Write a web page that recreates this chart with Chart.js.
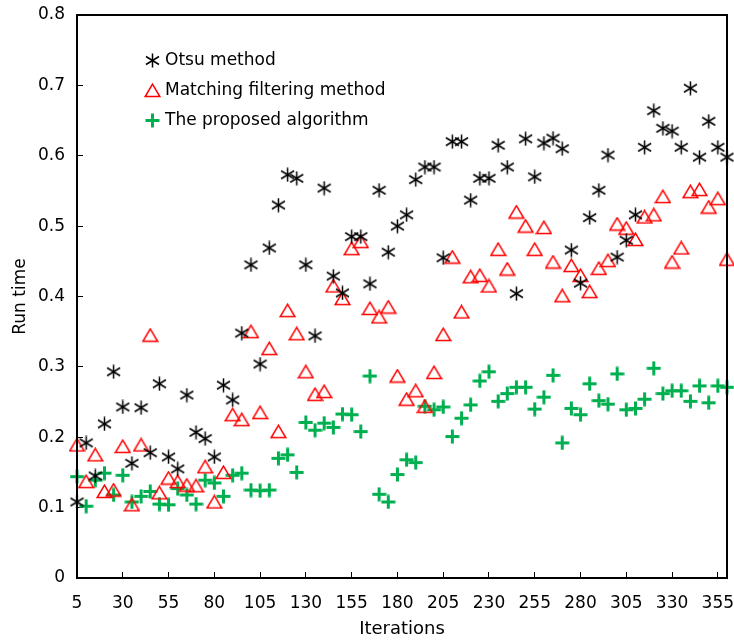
<!DOCTYPE html>
<html>
<head>
<meta charset="utf-8">
<title>Run time vs iterations</title>
<script src="https://cdn.jsdelivr.net/npm/chart.js@4.4.1/dist/chart.umd.min.js"></script>
<style>
    html, body { margin: 0; padding: 0; background: #fff; }
    #wrap { width: 734px; height: 640px; position: relative; }
</style>
</head>
<body>
<div id="wrap"><canvas id="runChart"></canvas></div>
<script>
(function() {
    'use strict';

    // Iteration counts shared by all three series
    const iterations = [
        5, 10, 15, 20, 25, 30, 35, 40, 45, 50, 55, 60, 65, 70, 75, 80, 85, 90,
        95, 100, 105, 110, 115, 120, 125, 130, 135, 140, 145, 150, 155, 160, 165, 170,
        175, 180, 185, 190, 195, 200, 205, 210, 215, 220, 225, 230, 235, 240, 245, 250,
        255, 260, 265, 270, 275, 280, 285, 290, 295, 300, 305, 310, 315, 320, 325, 330,
        335, 340, 345, 350, 355, 360
    ];

    // Run times
    const otsuTimes = [
        0.108, 0.192, 0.145, 0.219, 0.293, 0.243, 0.163, 0.242, 0.178, 0.276,
        0.172, 0.155, 0.260, 0.207, 0.198, 0.172, 0.274, 0.253, 0.348, 0.445,
        0.304, 0.469, 0.530, 0.573, 0.568, 0.445, 0.344, 0.554, 0.429, 0.405,
        0.485, 0.485, 0.418, 0.551, 0.463, 0.500, 0.516, 0.566, 0.584, 0.584,
        0.455, 0.620, 0.620, 0.537, 0.568, 0.568, 0.615, 0.584, 0.404, 0.624,
        0.570, 0.618, 0.625, 0.610, 0.466, 0.419, 0.512, 0.551, 0.601, 0.456,
        0.480, 0.516, 0.612, 0.664, 0.639, 0.635, 0.612, 0.696, 0.598, 0.649,
        0.612, 0.598
    ];

    const matchingTimes = [
        0.189, 0.137, 0.175, 0.123, 0.125, 0.187, 0.104, 0.189, 0.345, 0.121,
        0.142, 0.137, 0.132, 0.131, 0.158, 0.108, 0.150, 0.232, 0.225, 0.350,
        0.235, 0.326, 0.208, 0.380, 0.347, 0.293, 0.261, 0.265, 0.415, 0.397,
        0.468, 0.478, 0.383, 0.371, 0.385, 0.287, 0.254, 0.266, 0.244, 0.292,
        0.346, 0.456, 0.378, 0.428, 0.430, 0.415, 0.467, 0.439, 0.520, 0.500,
        0.467, 0.498, 0.449, 0.401, 0.444, 0.430, 0.407, 0.440, 0.451, 0.503,
        0.497, 0.481, 0.513, 0.516, 0.542, 0.449, 0.469, 0.549, 0.552, 0.527,
        0.539, 0.453
    ];

    const proposedTimes = [
        0.144, 0.102, 0.139, 0.149, 0.118, 0.146, 0.108, 0.116, 0.123, 0.105,
        0.104, 0.127, 0.118, 0.105, 0.139, 0.135, 0.116, 0.146, 0.149, 0.125,
        0.124, 0.125, 0.170, 0.175, 0.150, 0.221, 0.210, 0.220, 0.214, 0.233,
        0.232, 0.208, 0.287, 0.119, 0.108, 0.147, 0.168, 0.164, 0.244, 0.239,
        0.243, 0.201, 0.227, 0.246, 0.280, 0.293, 0.251, 0.262, 0.271, 0.271,
        0.240, 0.257, 0.288, 0.192, 0.241, 0.232, 0.276, 0.252, 0.247, 0.290,
        0.239, 0.241, 0.254, 0.298, 0.262, 0.266, 0.266, 0.251, 0.273, 0.249,
        0.273, 0.271
    ];

    const seriesNames = ['Otsu method', 'Matching filtering method', 'The proposed algorithm'];
    const xTickValues = [5, 30, 55, 80, 105, 130, 155, 180, 205, 230, 255, 280, 305, 330, 355];

    const FONT = '"DejaVu Sans", Verdana, sans-serif';

    /**
     * Small offscreen canvases used as point styles
     */
    function makeMarker(w, h, draw) {
        const c = document.createElement('canvas');
        c.width = w;
        c.height = h;
        draw(c.getContext('2d'));
        return c;
    }

    const asteriskMarker = makeMarker(15, 15, g => {
        g.strokeStyle = '#000';
        g.lineWidth = 1.5;
        g.beginPath();
        g.moveTo(7.5, 0.5); g.lineTo(7.5, 14.5);
        g.moveTo(1, 3.5); g.lineTo(14, 11.5);
        g.moveTo(1, 11.5); g.lineTo(14, 3.5);
        g.stroke();
    });

    const triangleMarker = makeMarker(17, 15, g => {
        g.strokeStyle = '#ff0000';
        g.lineWidth = 1.5;
        g.beginPath();
        g.moveTo(8.5, 1.2);
        g.lineTo(1.2, 13.5);
        g.lineTo(15.8, 13.5);
        g.closePath();
        g.stroke();
    });

    const plusMarker = makeMarker(15, 15, g => {
        g.strokeStyle = '#00b050';
        g.lineWidth = 3;
        g.beginPath();
        g.moveTo(0.5, 7.5); g.lineTo(14.5, 7.5);
        g.moveTo(7.5, 0.5); g.lineTo(7.5, 14.5);
        g.stroke();
    });

    function toPoints(values) {
        return values.map((v, i) => ({ x: iterations[i], y: v }));
    }

    // Legend drawn inside the plot, top-left
    const insideLegend = {
        id: 'insideLegend',
        afterDatasetsDraw(chart, args, opts) {
            const ctx = chart.ctx;
            ctx.save();
            ctx.font = opts.font;
            ctx.fillStyle = '#000';
            ctx.textBaseline = 'middle';
            ctx.textAlign = 'left';
            chart.data.datasets.forEach((ds, i) => {
                const y = opts.y + i * opts.rowHeight;
                const img = ds.pointStyle;
                ctx.drawImage(img, Math.round(opts.x - img.width / 2), Math.round(y - img.height / 2));
                ctx.fillText(ds.label, opts.x + opts.textGap, y + 1);
            });
            ctx.restore();
        }
    };

    // Black frame round the plot area
    const plotFrame = {
        id: 'plotFrame',
        afterDraw(chart) {
            const a = chart.chartArea;
            const ctx = chart.ctx;
            ctx.save();
            ctx.strokeStyle = '#000';
            ctx.lineWidth = 2;
            ctx.strokeRect(a.left, a.top, a.right - a.left, a.bottom - a.top);
            ctx.restore();
        }
    };

    const ctx = document.getElementById('runChart').getContext('2d');

    new Chart(ctx, {
        type: 'scatter',
        data: {
            datasets: [
                { label: seriesNames[0], data: toPoints(otsuTimes), pointStyle: asteriskMarker, clip: false },
                { label: seriesNames[1], data: toPoints(matchingTimes), pointStyle: triangleMarker, clip: false },
                { label: seriesNames[2], data: toPoints(proposedTimes), pointStyle: plusMarker, clip: false }
            ]
        },
        options: {
            responsive: true,
            maintainAspectRatio: false,
            animation: false,
            events: [],
            layout: {
                padding: { left: 0, right: 7, top: 15, bottom: 0 }
            },
            plugins: {
                legend: { display: false },
                tooltip: { enabled: false },
                insideLegend: {
                    x: 152,
                    y: 60,
                    rowHeight: 30,
                    textGap: 13,
                    font: '17px ' + FONT
                }
            },
            scales: {
                x: {
                    type: 'linear',
                    min: 5,
                    max: 360,
                    afterBuildTicks: scale => {
                        scale.ticks = xTickValues.map(v => ({ value: v }));
                    },
                    afterFit: scale => {
                        scale.height = 62;
                        scale.paddingLeft = 0;
                        scale.paddingRight = 0;
                    },
                    border: { color: '#000', width: 2 },
                    grid: {
                        drawOnChartArea: false,
                        color: '#000',
                        lineWidth: 1,
                        tickLength: -6
                    },
                    ticks: {
                        color: '#000',
                        padding: 21,
                        maxRotation: 0,
                        autoSkip: false,
                        font: { family: FONT, size: 17 }
                    },
                    title: {
                        display: true,
                        text: 'Iterations',
                        color: '#000',
                        padding: { top: 0, bottom: 0 },
                        font: { family: FONT, size: 18 }
                    }
                },
                y: {
                    min: 0,
                    max: 0.8,
                    afterFit: scale => {
                        scale.width = 77;
                        scale.paddingTop = 0;
                        scale.paddingBottom = 0;
                    },
                    border: { color: '#000', width: 2 },
                    grid: {
                        drawOnChartArea: false,
                        color: '#000',
                        lineWidth: 1,
                        tickLength: -6
                    },
                    ticks: {
                        stepSize: 0.1,
                        color: '#000',
                        padding: 18,
                        font: { family: FONT, size: 17 }
                    },
                    title: {
                        display: true,
                        text: 'Run time',
                        color: '#000',
                        padding: { top: 10, bottom: 0 },
                        font: { family: FONT, size: 17 }
                    }
                }
            }
        },
        plugins: [insideLegend, plotFrame]
    });
})();
</script>
</body>
</html>
